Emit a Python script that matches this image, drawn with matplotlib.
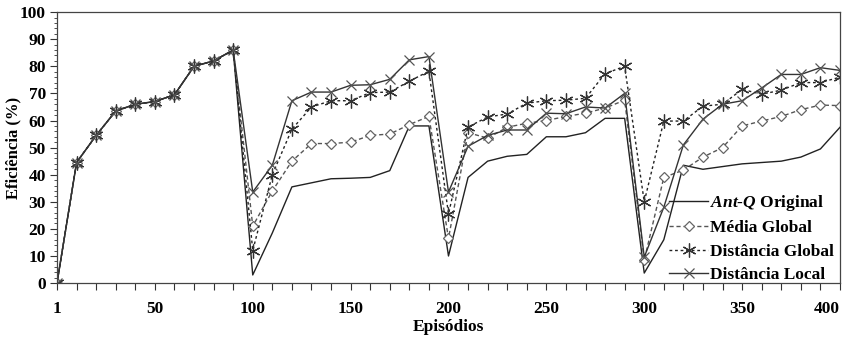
import matplotlib
matplotlib.use("Agg")
import matplotlib.pyplot as plt
from matplotlib.ticker import FixedLocator, MultipleLocator

plt.rcParams['font.family'] = ['Liberation Serif', 'DejaVu Serif']
plt.rcParams['font.weight'] = 'bold'
plt.rcParams['mathtext.fontset'] = 'custom'
plt.rcParams['mathtext.it'] = 'Liberation Serif:italic:bold'
plt.rcParams['mathtext.rm'] = 'Liberation Serif:bold'

episodes = [1] + list(range(10, 401, 10))
tick_labels = ["1", "50", "100", "150", "200", "250", "300", "350", "400"]
tick_values = [1, 50, 100, 150, 200, 250, 300, 350, 400]

shared = [0, 44.5, 54.5, 63.5, 66, 67, 69.5, 80, 82, 86]

antq = shared + [3, 18.5, 35.5, 37, 38.5, 38.7, 39, 41.5, 58, 58,
                 10, 39, 45, 46.8, 47.5, 54, 54, 55.5, 60.8, 60.8,
                 3.7, 16, 43.5, 42, 43, 44, 44.5, 45, 46.5, 49.5, 57.5]
media = shared + [21, 34, 45, 51.5, 51.5, 52, 54.5, 55, 58.5, 61.5,
                  16.5, 55.5, 53.5, 57.5, 59, 60, 61.5, 62.7, 64.6, 67.5,
                  8.5, 39, 41.7, 46.5, 50, 58, 59.8, 61.5, 64, 65.7, 65.5]
dist_global = shared + [12, 40, 56.8, 65, 67.3, 67.3, 70.3, 70.5, 74.5, 78.2,
                        25.5, 57.6, 61.3, 62.4, 66.4, 67.3, 67.5, 68.2, 77.3, 80,
                        30, 59.8, 59.8, 65.3, 66, 71.5, 69.7, 71.2, 74, 74, 76]
dist_local = shared + [33.6, 43.5, 67.3, 70.5, 70.5, 73, 73.2, 75.2, 82.4, 83.6,
                       33.6, 50.5, 54.5, 56.5, 56.5, 62.7, 62.5, 65, 64.6, 70,
                       9.6, 28, 51, 60.5, 66, 67.3, 72, 77, 77, 79.5, 78.5]

x = list(range(len(episodes)))
tick_pos = [episodes.index(v) for v in tick_values]

fig = plt.figure(figsize=(8.42, 3.37), dpi=100)
ax = fig.add_axes([0.0677, 0.160, 0.9299, 0.804])

ax.plot(x, antq, color='#222222', lw=1.0, label=r'$\mathit{Ant}$-$\mathit{Q}$ Original')
ax.plot(x, media, color='#555555', lw=1.0, ls=(0, (3, 2)), marker='D', ms=5.5,
        mfc='white', mec='#666666', mew=0.9, label='Média Global')
ax.plot(x, dist_global, color='#222222', lw=1.0, ls=(0, (2, 2)), marker=(6, 2, 0), ms=10,
        mec='#333333', mew=0.9, label='Distância Global')
ax.plot(x, dist_local, color='#333333', lw=1.0, marker='x', ms=7.5,
        mec='#555555', mew=0.9, label='Distância Local')

ax.set_xlim(0, len(episodes) - 1)
ax.set_ylim(0, 100)
ax.xaxis.set_major_locator(FixedLocator(tick_pos))
ax.set_xticklabels(tick_labels)
ax.xaxis.set_minor_locator(FixedLocator(x))
ax.yaxis.set_major_locator(MultipleLocator(10))
ax.yaxis.set_minor_locator(MultipleLocator(2))
ax.tick_params(axis='both', which='major', labelsize=12.5, direction='out', length=5,
               width=0.8, color='#333333')
ax.tick_params(axis='x', which='minor', direction='out', length=5, width=0.8, color='#333333')
ax.tick_params(axis='y', which='minor', direction='out', length=2.5, width=0.6, color='#333333')
ax.tick_params(axis='x', pad=8)
ax.tick_params(axis='y', pad=3)
xt = ax.get_xticklabels()
for lbl in xt + ax.get_yticklabels():
    lbl.set_fontweight('bold')
xt[-1].set_horizontalalignment('right')

for s in ax.spines.values():
    s.set_color('#444444')
    s.set_linewidth(0.9)

ax.set_xlabel('Episódios', fontsize=12.5, fontweight='bold', labelpad=1)
ax.set_ylabel('Eficiência (%)', fontsize=12, fontweight='bold', labelpad=-1)

leg = ax.legend(loc='lower right', bbox_to_anchor=(1.008, -0.045), frameon=False,
                fontsize=12.5, handlelength=2.2, handletextpad=0.15, labelspacing=0.42,
                borderpad=0.2)
for t in leg.get_texts():
    t.set_fontweight('bold')

fig.savefig('out.png', dpi=100)
